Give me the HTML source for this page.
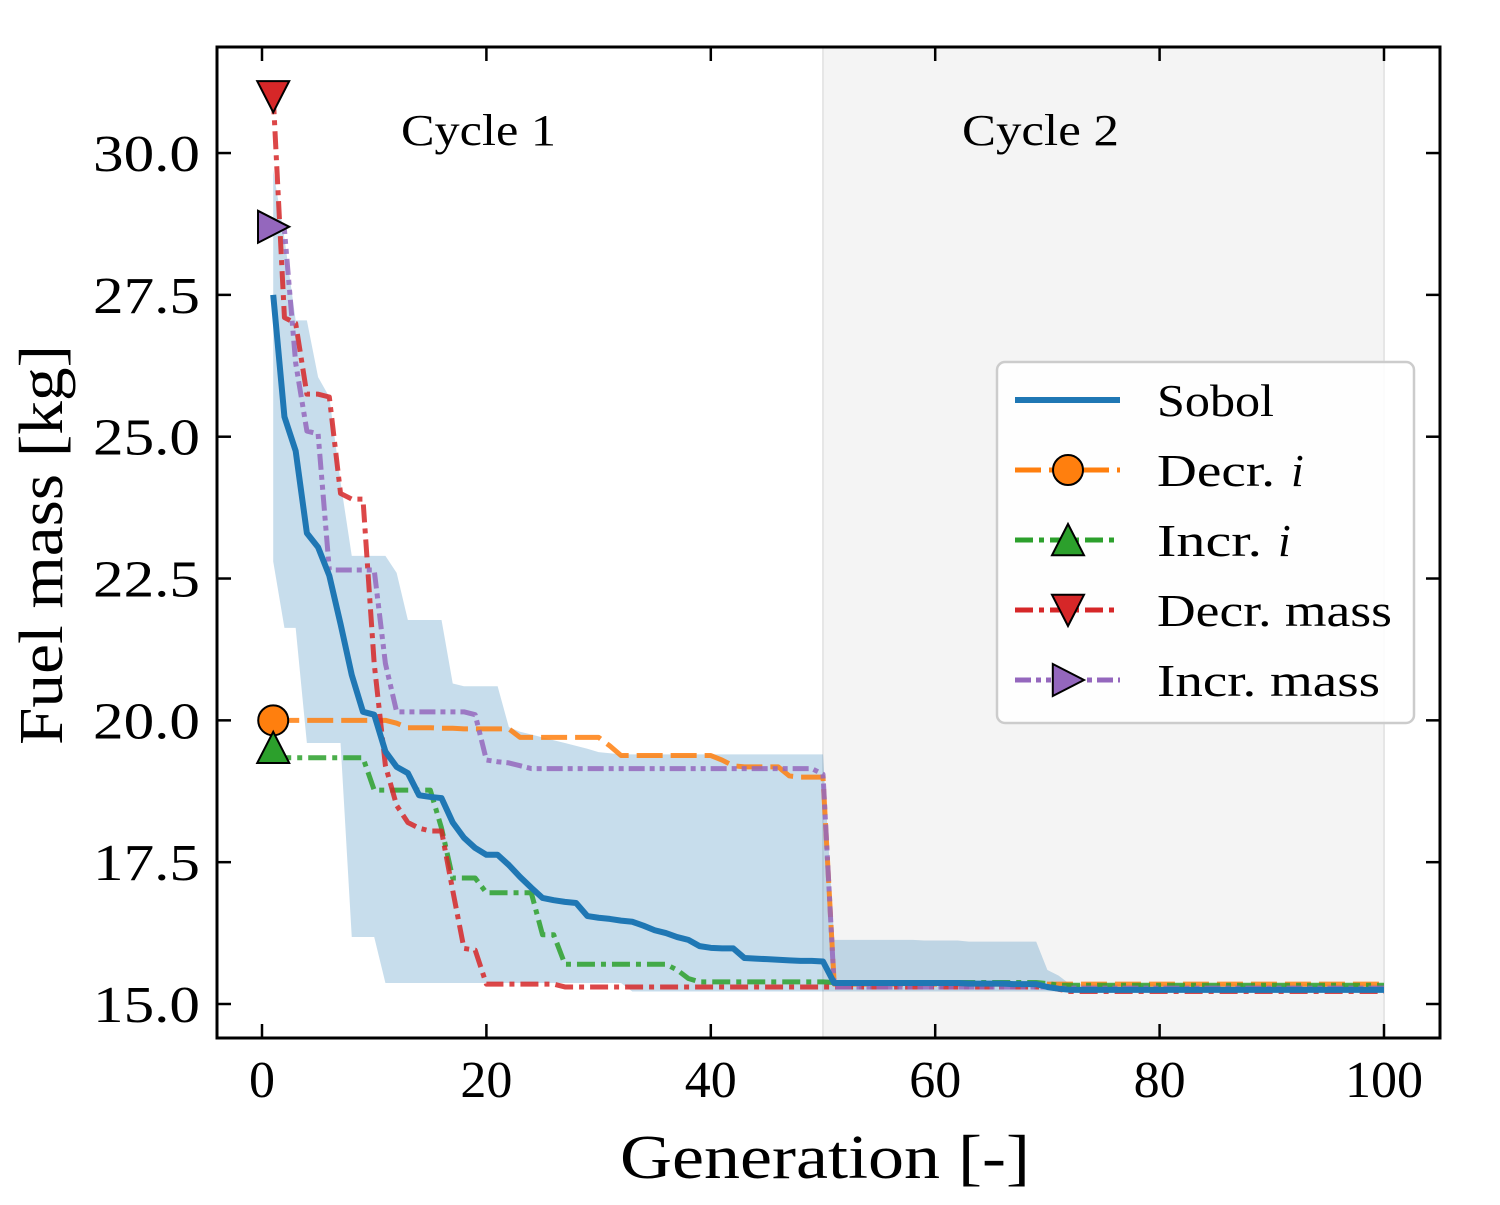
<!DOCTYPE html>
<html><head><meta charset="utf-8"><style>
html,body{margin:0;padding:0;background:#fff;}
svg text{font-family:"Liberation Serif",serif;}
</style></head><body>
<svg id="chart" width="1500" height="1200" xmlns="http://www.w3.org/2000/svg"></svg>
<script>
const gens = Array.from({length:100},(_, i)=>i+1);
const sobol = [27.5,25.35,24.75,23.3,23.05,22.55,21.7,20.8,20.15,20.1,19.45,19.18,19.07,18.68,18.65,18.63,18.2,17.93,17.75,17.63,17.63,17.45,17.24,17.05,16.87,16.83,16.8,16.78,16.55,16.52,16.5,16.47,16.45,16.38,16.3,16.25,16.18,16.13,16.02,15.99,15.98,15.98,15.81,15.8,15.79,15.78,15.77,15.76,15.76,15.75,
15.37,15.37,15.37,15.37,15.37,15.37,15.37,15.37,15.37,15.37,15.37,15.37,15.36,15.36,15.36,15.36,15.35,15.35,15.35,15.3,15.27,15.25,15.25,15.25,15.25,15.25,15.25,15.25,15.25,15.25,15.25,15.25,15.25,15.25,15.25,15.25,15.25,15.25,15.25,15.25,15.25,15.25,15.25,15.25,15.25,15.25,15.25,15.25,15.25,15.25];
const bandUpper = [29.7,28.5,27.05,27.05,26.05,25.7,24.2,22.9,22.9,22.9,22.9,22.6,21.77,21.77,21.77,21.77,20.65,20.6,20.6,20.6,20.6,19.88,19.8,19.75,19.7,19.65,19.6,19.55,19.5,19.44,19.42,19.4,19.4,19.4,19.4,19.4,19.4,19.4,19.4,19.4,19.4,19.4,19.4,19.4,19.4,19.4,19.4,19.4,19.4,19.4,
16.13,16.13,16.13,16.13,16.13,16.13,16.13,16.13,16.12,16.12,16.12,16.12,16.1,16.1,16.1,16.1,16.1,16.1,16.1,15.6,15.5,15.35,15.35,15.35,15.35,15.35,15.35,15.35,15.35,15.35,15.35,15.35,15.35,15.35,15.35,15.35,15.35,15.35,15.35,15.35,15.35,15.35,15.35,15.35,15.35,15.35,15.35,15.35,15.35,15.35];
const bandLower = [22.8,21.63,21.63,19.6,19.6,19.6,19.6,16.18,16.18,16.18,15.37,15.37,15.37,15.37,15.37,15.37,15.37,15.37,15.37,15.37,15.37,15.37,15.37,15.37,15.37,15.37,15.37,15.37,15.37,15.37,15.37,15.37,15.22,15.22,15.22,15.22,15.22,15.22,15.22,15.22,15.22,15.22,15.22,15.22,15.22,15.22,15.22,15.22,15.22,15.22,
15.22,15.22,15.22,15.22,15.22,15.22,15.22,15.22,15.22,15.22,15.22,15.22,15.22,15.22,15.22,15.22,15.22,15.22,15.22,15.22,15.22,15.22,15.22,15.22,15.22,15.22,15.22,15.22,15.22,15.22,15.22,15.22,15.22,15.22,15.22,15.22,15.22,15.22,15.22,15.22,15.22,15.22,15.22,15.22,15.22,15.22,15.22,15.22,15.22,15.22];
const decrI = [20.0,20.0,20.0,20.0,20.0,20.0,20.0,20.0,20.0,20.0,20.0,19.95,19.87,19.87,19.87,19.86,19.86,19.85,19.85,19.85,19.85,19.85,19.7,19.7,19.7,19.7,19.7,19.7,19.7,19.7,19.55,19.38,19.38,19.38,19.38,19.38,19.38,19.38,19.38,19.38,19.3,19.2,19.18,19.18,19.18,19.18,19.02,19.0,19.0,19.0,
15.35,15.35,15.35,15.35,15.35,15.35,15.35,15.35,15.35,15.35,15.35,15.35,15.35,15.35,15.35,15.35,15.35,15.35,15.35,15.35,15.35,15.35,15.35,15.35,15.35,15.35,15.35,15.35,15.35,15.35,15.35,15.35,15.35,15.35,15.35,15.35,15.35,15.35,15.35,15.35,15.35,15.35,15.35,15.35,15.35,15.35,15.35,15.35,15.35,15.35];
const incrI = [19.34,19.34,19.34,19.34,19.34,19.34,19.34,19.34,19.34,18.77,18.77,18.77,18.77,18.77,18.77,18.1,17.22,17.22,17.22,16.96,16.96,16.96,16.96,16.96,16.22,16.22,15.7,15.7,15.7,15.7,15.7,15.7,15.7,15.7,15.7,15.7,15.6,15.45,15.39,15.39,15.39,15.39,15.39,15.39,15.39,15.39,15.39,15.39,15.39,15.39,
15.38,15.38,15.38,15.38,15.38,15.38,15.38,15.38,15.38,15.38,15.38,15.38,15.38,15.38,15.38,15.38,15.38,15.38,15.38,15.36,15.33,15.33,15.33,15.33,15.33,15.33,15.33,15.33,15.33,15.33,15.33,15.33,15.33,15.33,15.33,15.33,15.33,15.33,15.33,15.33,15.33,15.33,15.33,15.33,15.33,15.33,15.33,15.33,15.33,15.33];
const decrMass = [31.0,27.1,27.0,25.75,25.75,25.7,24.0,23.9,23.9,21.0,19.2,18.5,18.2,18.1,18.05,18.05,17.0,15.98,15.95,15.35,15.35,15.35,15.35,15.35,15.35,15.35,15.3,15.3,15.3,15.3,15.3,15.3,15.3,15.3,15.3,15.3,15.3,15.3,15.3,15.3,15.3,15.3,15.3,15.3,15.3,15.3,15.3,15.3,15.3,15.3,
15.3,15.3,15.3,15.3,15.3,15.3,15.3,15.3,15.3,15.3,15.3,15.3,15.3,15.3,15.3,15.3,15.3,15.3,15.3,15.3,15.26,15.22,15.22,15.22,15.22,15.22,15.22,15.22,15.22,15.22,15.22,15.22,15.22,15.22,15.22,15.22,15.22,15.22,15.22,15.22,15.22,15.22,15.22,15.22,15.22,15.22,15.22,15.22,15.22,15.22];
const incrMass = [28.7,28.65,26.3,25.1,25.05,22.65,22.65,22.65,22.65,22.65,21.0,20.15,20.15,20.15,20.15,20.15,20.15,20.15,20.1,19.3,19.27,19.25,19.2,19.15,19.15,19.15,19.15,19.15,19.15,19.15,19.15,19.15,19.15,19.15,19.15,19.15,19.15,19.15,19.15,19.15,19.15,19.15,19.15,19.15,19.15,19.15,19.15,19.15,19.15,19.05,
15.3,15.3,15.3,15.3,15.3,15.3,15.3,15.3,15.3,15.3,15.3,15.3,15.3,15.3,15.3,15.3,15.3,15.3,15.3,15.3,15.28,15.28,15.28,15.28,15.28,15.28,15.28,15.28,15.28,15.28,15.28,15.28,15.28,15.28,15.28,15.28,15.28,15.28,15.28,15.28,15.28,15.28,15.28,15.28,15.28,15.28,15.28,15.28,15.28,15.28];
const xTicks = [0,20,40,60,80,100];
const yTicks = [15.0,17.5,20.0,22.5,25.0,27.5,30.0];
const seriesNames = ["Sobol","Decr. i","Incr. i","Decr. mass","Incr. mass"];

const NS="http://www.w3.org/2000/svg";
const svg=document.getElementById('chart');
const L=217,R=1440,T=47,B=1038;
const X=g=>262+g*11.22;
const Y=v=>1004-(v-15)*56.73;
function el(tag,attrs,parent){const e=document.createElementNS(NS,tag);for(const k in attrs)e.setAttribute(k,attrs[k]);(parent||svg).appendChild(e);return e;}

const shade=el('rect',{x:X(50),y:T,width:X(100)-X(50),height:B-T,fill:'#f4f4f4',stroke:'#e6e6e6','stroke-width':2});



let bp=gens.map((g,i)=>`${X(g)},${Y(bandUpper[i])}`);
for(let i=gens.length-1;i>=0;i--)bp.push(`${X(gens[i])},${Y(bandLower[i])}`);
const band=el('polygon',{points:bp.join(' '),fill:'#1f77b4','fill-opacity':0.25});



const styles=[
 {data:sobol,color:'#1f77b4',w:6,dash:'',name:'sobol-line'},
 {data:decrI,color:'#ff7f0e',w:5,dash:'26,8',name:'decr-i-line'},
 {data:incrI,color:'#2ca02c',w:5,dash:'18,6,5,6',name:'incr-i-line'},
 {data:decrMass,color:'#d62728',w:5,dash:'18,6,5,6',name:'decr-mass-line'},
 {data:incrMass,color:'#9467bd',w:5,dash:'16,5,5,5,5,5',name:'incr-mass-line'}
];
const drawOrder=[1,2,3,4,0];
drawOrder.forEach(k=>{const s=styles[k];
 const p=el('polyline',{points:gens.map((g,i)=>`${X(g)},${Y(s.data[i])}`).join(' '),fill:'none',stroke:s.color,'stroke-width':s.w,'stroke-dasharray':s.dash,'stroke-opacity':k==0?1:0.85,'stroke-linejoin':'round'});
 
 
});
function marker(kind,cx,cy,color,parent){
 const r=16;let e;
 if(kind==='o')e=el('circle',{cx,cy,r:15,fill:color,stroke:'#000','stroke-width':2},parent);
 else if(kind==='^')e=el('polygon',{points:`${cx},${cy-r} ${cx+r},${cy+r*0.95} ${cx-r},${cy+r*0.95}`,fill:color,stroke:'#000','stroke-width':2},parent);
 else if(kind==='v')e=el('polygon',{points:`${cx},${cy+r} ${cx+r},${cy-r*0.95} ${cx-r},${cy-r*0.95}`,fill:color,stroke:'#000','stroke-width':2},parent);
 else e=el('polygon',{points:`${cx+r},${cy} ${cx-r*0.95},${cy-r} ${cx-r*0.95},${cy+r}`,fill:color,stroke:'#000','stroke-width':2},parent);
 return e;
}
const mk=[null,'o','^','v','>'];
[1,2,3,4].forEach(k=>{const s=styles[k];const m=marker(mk[k],X(1),Y(s.data[0])+(k==2?-10:0),s.color);
 
 });

const frame=el('rect',{x:L,y:T,width:R-L,height:B-T,fill:'none',stroke:'#000','stroke-width':3});


xTicks.forEach(t=>{const x=X(t);
 el('line',{x1:x,y1:B,x2:x,y2:B-14,stroke:'#000','stroke-width':2.5});
 el('line',{x1:x,y1:T,x2:x,y2:T+14,stroke:'#000','stroke-width':2.5});
 const s=String(t);
 const tx=el('text',{x:x,y:1097,'font-size':52,'text-anchor':'middle',textLength:s.length*26,lengthAdjust:'spacingAndGlyphs'});tx.textContent=s;
 
 
});
yTicks.forEach(t=>{const y=Y(t);
 el('line',{x1:L,y1:y,x2:L+14,y2:y,stroke:'#000','stroke-width':2.5});
 el('line',{x1:R,y1:y,x2:R-14,y2:y,stroke:'#000','stroke-width':2.5});
 const tx=el('text',{x:93,y:y+18,'font-size':52,textLength:107,lengthAdjust:'spacingAndGlyphs'});tx.textContent=t.toFixed(1);
 
 
});
const xl=el('text',{x:620,y:1178,'font-size':62,textLength:410,lengthAdjust:'spacingAndGlyphs'});xl.textContent='Generation [-]';


const yl=el('text',{x:0,y:0,'font-size':62,textLength:400,lengthAdjust:'spacingAndGlyphs',transform:'translate(62,745) rotate(-90)'});yl.textContent='Fuel mass [kg]';


const c1=el('text',{x:401,y:145,'font-size':44,textLength:155,lengthAdjust:'spacingAndGlyphs'});c1.textContent='Cycle 1';


const c2=el('text',{x:962,y:145,'font-size':44,textLength:157,lengthAdjust:'spacingAndGlyphs'});c2.textContent='Cycle 2';



const lg=el('g',{});


el('rect',{x:997,y:362,width:417,height:361,rx:8,fill:'#fff','fill-opacity':0.85,stroke:'#cccccc','stroke-width':2.5},lg);
const lw=[117,150,137,235,223];
styles.forEach((s,k)=>{const y=400+k*70;
 const g=el('g',{},lg);
 
 
 el('line',{x1:1015,y1:y,x2:1120,y2:y,stroke:s.color,'stroke-width':s.w,'stroke-dasharray':s.dash},g);
 if(mk[k])marker(mk[k],1068,y,s.color,g);
 if(k==1||k==2){
  const t=el('text',{x:1157,y:y+16,'font-size':46,textLength:lw[k]-32,lengthAdjust:'spacingAndGlyphs'},g);t.textContent=seriesNames[k].slice(0,-1);
  const ti=el('text',{x:1157+lw[k]-16,y:y+16,'font-size':46,'font-style':'italic'},g);ti.textContent='i';
 } else {
  const t=el('text',{x:1157,y:y+16,'font-size':46,textLength:lw[k],lengthAdjust:'spacingAndGlyphs'},g);t.textContent=seriesNames[k];
 }
});
</script>
</body></html>
